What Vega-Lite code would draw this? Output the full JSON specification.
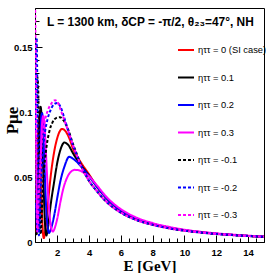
{
  "$schema": "https://vega.github.io/schema/vega-lite/v6.json",
  "width": 229,
  "height": 234,
  "autosize": "none",
  "padding": {"left": 35, "top": 8, "right": 2, "bottom": 31},
  "background": "white",
  "config": {
    "view": {"stroke": "black", "strokeWidth": 1},
    "axis": {"grid": false, "domainColor": "black", "tickColor": "black", "labelColor": "black", "titleColor": "black"}
  },
  "title": {
    "text": "L = 1300 km, δCP = -π/2, θ₂₃=47°, NH",
    "anchor": "start", "frame": "group", "dx": 12, "dy": 41,
    "font": "Liberation Sans", "fontSize": 11.9, "fontWeight": "bold", "color": "black"
  },
  "data": {"values": [
    {"s":"ηττ = 0 (SI case)","E":0.60,"P":0.030},{"s":"ηττ = 0 (SI case)","E":0.65,"P":0.008},{"s":"ηττ = 0 (SI case)","E":0.70,"P":0.028},{"s":"ηττ = 0 (SI case)","E":0.75,"P":0.062},{"s":"ηττ = 0 (SI case)","E":0.80,"P":0.086},{"s":"ηττ = 0 (SI case)","E":0.85,"P":0.095},{"s":"ηττ = 0 (SI case)","E":0.90,"P":0.088},{"s":"ηττ = 0 (SI case)","E":0.95,"P":0.066},{"s":"ηττ = 0 (SI case)","E":1.00,"P":0.040},{"s":"ηττ = 0 (SI case)","E":1.05,"P":0.019},{"s":"ηττ = 0 (SI case)","E":1.10,"P":0.007},{"s":"ηττ = 0 (SI case)","E":1.15,"P":0.003},{"s":"ηττ = 0 (SI case)","E":1.25,"P":0.009},{"s":"ηττ = 0 (SI case)","E":1.40,"P":0.028},{"s":"ηττ = 0 (SI case)","E":1.60,"P":0.052},{"s":"ηττ = 0 (SI case)","E":1.80,"P":0.069},{"s":"ηττ = 0 (SI case)","E":2.00,"P":0.080},{"s":"ηττ = 0 (SI case)","E":2.15,"P":0.085},{"s":"ηττ = 0 (SI case)","E":2.30,"P":0.087},{"s":"ηττ = 0 (SI case)","E":2.50,"P":0.0855},{"s":"ηττ = 0 (SI case)","E":2.75,"P":0.080},{"s":"ηττ = 0 (SI case)","E":3.00,"P":0.0715},{"s":"ηττ = 0 (SI case)","E":3.50,"P":0.061},{"s":"ηττ = 0 (SI case)","E":4.00,"P":0.052},{"s":"ηττ = 0 (SI case)","E":4.5,"P":0.0425},{"s":"ηττ = 0 (SI case)","E":5,"P":0.035},{"s":"ηττ = 0 (SI case)","E":5.5,"P":0.029},{"s":"ηττ = 0 (SI case)","E":6,"P":0.0245},{"s":"ηττ = 0 (SI case)","E":7,"P":0.018},{"s":"ηττ = 0 (SI case)","E":8,"P":0.014},{"s":"ηττ = 0 (SI case)","E":9,"P":0.0112},{"s":"ηττ = 0 (SI case)","E":10,"P":0.0091},{"s":"ηττ = 0 (SI case)","E":11,"P":0.0076},{"s":"ηττ = 0 (SI case)","E":12,"P":0.0064},{"s":"ηττ = 0 (SI case)","E":13,"P":0.0055},{"s":"ηττ = 0 (SI case)","E":14,"P":0.0047},{"s":"ηττ = 0 (SI case)","E":15,"P":0.0041},

    {"s":"ηττ = 0.1","E":0.60,"P":0.050},{"s":"ηττ = 0.1","E":0.65,"P":0.022},{"s":"ηττ = 0.1","E":0.70,"P":0.006},{"s":"ηττ = 0.1","E":0.75,"P":0.016},{"s":"ηττ = 0.1","E":0.80,"P":0.046},{"s":"ηττ = 0.1","E":0.85,"P":0.077},{"s":"ηττ = 0.1","E":0.90,"P":0.097},{"s":"ηττ = 0.1","E":0.95,"P":0.104},{"s":"ηττ = 0.1","E":1.00,"P":0.099},{"s":"ηττ = 0.1","E":1.05,"P":0.085},{"s":"ηττ = 0.1","E":1.10,"P":0.063},{"s":"ηττ = 0.1","E":1.15,"P":0.041},{"s":"ηττ = 0.1","E":1.20,"P":0.022},{"s":"ηττ = 0.1","E":1.25,"P":0.010},{"s":"ηττ = 0.1","E":1.32,"P":0.005},{"s":"ηττ = 0.1","E":1.40,"P":0.010},{"s":"ηττ = 0.1","E":1.60,"P":0.030},{"s":"ηττ = 0.1","E":1.80,"P":0.046},{"s":"ηττ = 0.1","E":2.00,"P":0.061},{"s":"ηττ = 0.1","E":2.20,"P":0.071},{"s":"ηττ = 0.1","E":2.45,"P":0.0765},{"s":"ηττ = 0.1","E":2.70,"P":0.0745},{"s":"ηττ = 0.1","E":3.00,"P":0.068},{"s":"ηττ = 0.1","E":3.50,"P":0.059},{"s":"ηττ = 0.1","E":4.00,"P":0.051},{"s":"ηττ = 0.1","E":4.5,"P":0.0425},{"s":"ηττ = 0.1","E":5,"P":0.035},{"s":"ηττ = 0.1","E":5.5,"P":0.029},{"s":"ηττ = 0.1","E":6,"P":0.0245},{"s":"ηττ = 0.1","E":7,"P":0.018},{"s":"ηττ = 0.1","E":8,"P":0.014},{"s":"ηττ = 0.1","E":9,"P":0.0112},{"s":"ηττ = 0.1","E":10,"P":0.0091},{"s":"ηττ = 0.1","E":11,"P":0.0076},{"s":"ηττ = 0.1","E":12,"P":0.0064},{"s":"ηττ = 0.1","E":13,"P":0.0055},{"s":"ηττ = 0.1","E":14,"P":0.0047},{"s":"ηττ = 0.1","E":15,"P":0.0041},

    {"s":"ηττ = 0.2","E":0.60,"P":0.075},{"s":"ηττ = 0.2","E":0.65,"P":0.042},{"s":"ηττ = 0.2","E":0.70,"P":0.018},{"s":"ηττ = 0.2","E":0.75,"P":0.008},{"s":"ηττ = 0.2","E":0.80,"P":0.016},{"s":"ηττ = 0.2","E":0.85,"P":0.040},{"s":"ηττ = 0.2","E":0.90,"P":0.068},{"s":"ηττ = 0.2","E":0.95,"P":0.088},{"s":"ηττ = 0.2","E":1.00,"P":0.097},{"s":"ηττ = 0.2","E":1.05,"P":0.099},{"s":"ηττ = 0.2","E":1.10,"P":0.092},{"s":"ηττ = 0.2","E":1.15,"P":0.077},{"s":"ηττ = 0.2","E":1.20,"P":0.058},{"s":"ηττ = 0.2","E":1.30,"P":0.027},{"s":"ηττ = 0.2","E":1.40,"P":0.011},{"s":"ηττ = 0.2","E":1.48,"P":0.007},{"s":"ηττ = 0.2","E":1.60,"P":0.010},{"s":"ηττ = 0.2","E":1.80,"P":0.020},{"s":"ηττ = 0.2","E":2.00,"P":0.034},{"s":"ηττ = 0.2","E":2.20,"P":0.047},{"s":"ηττ = 0.2","E":2.45,"P":0.058},{"s":"ηττ = 0.2","E":2.75,"P":0.0655},{"s":"ηττ = 0.2","E":3.00,"P":0.064},{"s":"ηττ = 0.2","E":3.50,"P":0.058},{"s":"ηττ = 0.2","E":4.00,"P":0.0505},{"s":"ηττ = 0.2","E":4.5,"P":0.0425},{"s":"ηττ = 0.2","E":5,"P":0.035},{"s":"ηττ = 0.2","E":5.5,"P":0.029},{"s":"ηττ = 0.2","E":6,"P":0.0245},{"s":"ηττ = 0.2","E":7,"P":0.018},{"s":"ηττ = 0.2","E":8,"P":0.014},{"s":"ηττ = 0.2","E":9,"P":0.0112},{"s":"ηττ = 0.2","E":10,"P":0.0091},{"s":"ηττ = 0.2","E":11,"P":0.0076},{"s":"ηττ = 0.2","E":12,"P":0.0064},{"s":"ηττ = 0.2","E":13,"P":0.0055},{"s":"ηττ = 0.2","E":14,"P":0.0047},{"s":"ηττ = 0.2","E":15,"P":0.0041},

    {"s":"ηττ = 0.3","E":0.60,"P":0.115},{"s":"ηττ = 0.3","E":0.65,"P":0.072},{"s":"ηττ = 0.3","E":0.70,"P":0.040},{"s":"ηττ = 0.3","E":0.75,"P":0.020},{"s":"ηττ = 0.3","E":0.80,"P":0.010},{"s":"ηττ = 0.3","E":0.85,"P":0.016},{"s":"ηττ = 0.3","E":0.90,"P":0.036},{"s":"ηττ = 0.3","E":0.95,"P":0.060},{"s":"ηττ = 0.3","E":1.00,"P":0.080},{"s":"ηττ = 0.3","E":1.05,"P":0.092},{"s":"ηττ = 0.3","E":1.12,"P":0.097},{"s":"ηττ = 0.3","E":1.20,"P":0.090},{"s":"ηττ = 0.3","E":1.30,"P":0.066},{"s":"ηττ = 0.3","E":1.40,"P":0.041},{"s":"ηττ = 0.3","E":1.50,"P":0.023},{"s":"ηττ = 0.3","E":1.60,"P":0.012},{"s":"ηττ = 0.3","E":1.72,"P":0.008},{"s":"ηττ = 0.3","E":1.85,"P":0.011},{"s":"ηττ = 0.3","E":2.00,"P":0.018},{"s":"ηττ = 0.3","E":2.20,"P":0.031},{"s":"ηττ = 0.3","E":2.40,"P":0.042},{"s":"ηττ = 0.3","E":2.60,"P":0.049},{"s":"ηττ = 0.3","E":2.85,"P":0.054},{"s":"ηττ = 0.3","E":3.10,"P":0.0555},{"s":"ηττ = 0.3","E":3.40,"P":0.055},{"s":"ηττ = 0.3","E":3.70,"P":0.053},{"s":"ηττ = 0.3","E":4.00,"P":0.0505},{"s":"ηττ = 0.3","E":4.5,"P":0.0435},{"s":"ηττ = 0.3","E":5,"P":0.036},{"s":"ηττ = 0.3","E":5.5,"P":0.030},{"s":"ηττ = 0.3","E":6,"P":0.0253},{"s":"ηττ = 0.3","E":7,"P":0.0187},{"s":"ηττ = 0.3","E":8,"P":0.0146},{"s":"ηττ = 0.3","E":9,"P":0.0117},{"s":"ηττ = 0.3","E":10,"P":0.0095},{"s":"ηττ = 0.3","E":11,"P":0.0079},{"s":"ηττ = 0.3","E":12,"P":0.0067},{"s":"ηττ = 0.3","E":13,"P":0.0057},{"s":"ηττ = 0.3","E":14,"P":0.0049},{"s":"ηττ = 0.3","E":15,"P":0.0043},

    {"s":"ηττ = -0.1","E":0.60,"P":0.030},{"s":"ηττ = -0.1","E":0.65,"P":0.068},{"s":"ηττ = -0.1","E":0.70,"P":0.108},{"s":"ηττ = -0.1","E":0.75,"P":0.127},{"s":"ηττ = -0.1","E":0.80,"P":0.118},{"s":"ηττ = -0.1","E":0.85,"P":0.080},{"s":"ηττ = -0.1","E":0.90,"P":0.032},{"s":"ηττ = -0.1","E":0.95,"P":0.006},{"s":"ηττ = -0.1","E":1.00,"P":0.012},{"s":"ηττ = -0.1","E":1.05,"P":0.030},{"s":"ηττ = -0.1","E":1.15,"P":0.052},{"s":"ηττ = -0.1","E":1.30,"P":0.071},{"s":"ηττ = -0.1","E":1.50,"P":0.085},{"s":"ηττ = -0.1","E":1.70,"P":0.092},{"s":"ηττ = -0.1","E":1.95,"P":0.0955},{"s":"ηττ = -0.1","E":2.17,"P":0.096},{"s":"ηττ = -0.1","E":2.40,"P":0.0935},{"s":"ηττ = -0.1","E":2.70,"P":0.086},{"s":"ηττ = -0.1","E":3.00,"P":0.075},{"s":"ηττ = -0.1","E":3.25,"P":0.067},{"s":"ηττ = -0.1","E":3.50,"P":0.059},{"s":"ηττ = -0.1","E":4.00,"P":0.047},{"s":"ηττ = -0.1","E":4.5,"P":0.039},{"s":"ηττ = -0.1","E":5,"P":0.032},{"s":"ηττ = -0.1","E":5.5,"P":0.0267},{"s":"ηττ = -0.1","E":6,"P":0.0226},{"s":"ηττ = -0.1","E":7,"P":0.0168},{"s":"ηττ = -0.1","E":8,"P":0.0132},{"s":"ηττ = -0.1","E":9,"P":0.0106},{"s":"ηττ = -0.1","E":10,"P":0.0087},{"s":"ηττ = -0.1","E":11,"P":0.0073},{"s":"ηττ = -0.1","E":12,"P":0.0062},{"s":"ηττ = -0.1","E":13,"P":0.0053},{"s":"ηττ = -0.1","E":14,"P":0.0046},{"s":"ηττ = -0.1","E":15,"P":0.0040},

    {"s":"ηττ = -0.2","E":0.60,"P":0.085},{"s":"ηττ = -0.2","E":0.65,"P":0.130},{"s":"ηττ = -0.2","E":0.70,"P":0.157},{"s":"ηττ = -0.2","E":0.74,"P":0.127},{"s":"ηττ = -0.2","E":0.78,"P":0.062},{"s":"ηττ = -0.2","E":0.82,"P":0.018},{"s":"ηττ = -0.2","E":0.85,"P":0.005},{"s":"ηττ = -0.2","E":0.90,"P":0.020},{"s":"ηττ = -0.2","E":0.95,"P":0.040},{"s":"ηττ = -0.2","E":1.05,"P":0.063},{"s":"ηττ = -0.2","E":1.20,"P":0.082},{"s":"ηττ = -0.2","E":1.40,"P":0.095},{"s":"ηττ = -0.2","E":1.60,"P":0.102},{"s":"ηττ = -0.2","E":1.80,"P":0.106},{"s":"ηττ = -0.2","E":2.03,"P":0.107},{"s":"ηττ = -0.2","E":2.20,"P":0.104},{"s":"ηττ = -0.2","E":2.48,"P":0.094},{"s":"ηττ = -0.2","E":2.70,"P":0.085},{"s":"ηττ = -0.2","E":3.00,"P":0.074},{"s":"ηττ = -0.2","E":3.25,"P":0.066},{"s":"ηττ = -0.2","E":3.50,"P":0.059},{"s":"ηττ = -0.2","E":4.00,"P":0.047},{"s":"ηττ = -0.2","E":4.5,"P":0.039},{"s":"ηττ = -0.2","E":5,"P":0.032},{"s":"ηττ = -0.2","E":5.5,"P":0.0267},{"s":"ηττ = -0.2","E":6,"P":0.0226},{"s":"ηττ = -0.2","E":7,"P":0.0168},{"s":"ηττ = -0.2","E":8,"P":0.0132},{"s":"ηττ = -0.2","E":9,"P":0.0106},{"s":"ηττ = -0.2","E":10,"P":0.0087},{"s":"ηττ = -0.2","E":11,"P":0.0073},{"s":"ηττ = -0.2","E":12,"P":0.0062},{"s":"ηττ = -0.2","E":13,"P":0.0053},{"s":"ηττ = -0.2","E":14,"P":0.0046},{"s":"ηττ = -0.2","E":15,"P":0.0040},

    {"s":"ηττ = -0.3","E":0.60,"P":0.190},{"s":"ηττ = -0.3","E":0.63,"P":0.155},{"s":"ηττ = -0.3","E":0.66,"P":0.100},{"s":"ηττ = -0.3","E":0.70,"P":0.040},{"s":"ηττ = -0.3","E":0.74,"P":0.008},{"s":"ηττ = -0.3","E":0.78,"P":0.015},{"s":"ηττ = -0.3","E":0.85,"P":0.040},{"s":"ηττ = -0.3","E":0.95,"P":0.065},{"s":"ηττ = -0.3","E":1.05,"P":0.080},{"s":"ηττ = -0.3","E":1.20,"P":0.092},{"s":"ηττ = -0.3","E":1.40,"P":0.101},{"s":"ηττ = -0.3","E":1.60,"P":0.106},{"s":"ηττ = -0.3","E":1.86,"P":0.109},{"s":"ηττ = -0.3","E":2.00,"P":0.108},{"s":"ηττ = -0.3","E":2.20,"P":0.102},{"s":"ηττ = -0.3","E":2.48,"P":0.0925},{"s":"ηττ = -0.3","E":2.70,"P":0.085},{"s":"ηττ = -0.3","E":3.00,"P":0.074},{"s":"ηττ = -0.3","E":3.25,"P":0.066},{"s":"ηττ = -0.3","E":3.50,"P":0.058},{"s":"ηττ = -0.3","E":4.00,"P":0.047},{"s":"ηττ = -0.3","E":4.5,"P":0.039},{"s":"ηττ = -0.3","E":5,"P":0.032},{"s":"ηττ = -0.3","E":5.5,"P":0.0267},{"s":"ηττ = -0.3","E":6,"P":0.0226},{"s":"ηττ = -0.3","E":7,"P":0.0168},{"s":"ηττ = -0.3","E":8,"P":0.0132},{"s":"ηττ = -0.3","E":9,"P":0.0106},{"s":"ηττ = -0.3","E":10,"P":0.0087},{"s":"ηττ = -0.3","E":11,"P":0.0073},{"s":"ηττ = -0.3","E":12,"P":0.0062},{"s":"ηττ = -0.3","E":13,"P":0.0053},{"s":"ηττ = -0.3","E":14,"P":0.0046},{"s":"ηττ = -0.3","E":15,"P":0.0040}
  ]},
  "layer": [
    {
      "mark": {"type": "line", "strokeWidth": 2, "clip": true, "interpolate": "monotone"},
      "encoding": {
        "x": {"field": "E", "type": "quantitative",
              "scale": {"domain": [0.6, 15], "nice": false, "zero": false},
              "axis": {"values": [2,4,6,8,10,12,14], "tickSize": -7, "labelPadding": 12, "labelFont": "Liberation Sans", "labelFontWeight": "bold", "labelFontSize": 9.5,
                       "title": "E [GeV]", "titleFont": "Liberation Serif", "titleFontSize": 15, "titleFontWeight": "bold", "titlePadding": 2}},
        "y": {"field": "P", "type": "quantitative",
              "scale": {"domain": [0, 0.18], "nice": false},
              "axis": {"values": [0, 0.05, 0.1, 0.15], "format": "~g", "tickSize": -7, "labelPadding": 10, "labelFont": "Liberation Sans", "labelFontWeight": "bold", "labelFontSize": 9.5,
                       "title": "Pμe", "titleFont": "Liberation Serif", "titleFontSize": 17, "titleFontWeight": "bold", "titleX": -14, "titleY": 112}},
        "color": {"field": "s", "type": "nominal",
                  "scale": {"domain": ["ηττ = 0 (SI case)","ηττ = 0.1","ηττ = 0.2","ηττ = 0.3","ηττ = -0.1","ηττ = -0.2","ηττ = -0.3"],
                            "range": ["#ff0000","#000000","#0000ff","#ff00ff","#000000","#0000ff","#ff00ff"]},
                  "legend": {"orient": "none", "legendX": 142, "legendY": 33, "title": null, "symbolType": "stroke", "symbolSize": 256, "symbolStrokeWidth": 2,
                             "labelFont": "Liberation Sans", "labelFontSize": 9.3, "labelColor": "black", "rowPadding": 12.5, "padding": 0, "labelOffset": 3}},
        "strokeDash": {"field": "s", "type": "nominal",
                  "scale": {"domain": ["ηττ = 0 (SI case)","ηττ = 0.1","ηττ = 0.2","ηττ = 0.3","ηττ = -0.1","ηττ = -0.2","ηττ = -0.3"],
                            "range": [[1,0],[1,0],[1,0],[1,0],[3,2],[3,2],[3,2]]},
                  "legend": {"orient": "none", "legendX": 142, "legendY": 33, "title": null, "symbolType": "stroke", "symbolSize": 256, "symbolStrokeWidth": 2,
                             "labelFont": "Liberation Sans", "labelFontSize": 9.3, "labelColor": "black", "rowPadding": 12.5, "padding": 0, "labelOffset": 3}}
      }
    },
    {
      "mark": {"type": "point", "opacity": 0},
      "encoding": {
        "x": {"field": "E", "type": "quantitative",
              "axis": {"orient": "bottom", "values": [1,1.5,2.5,3,3.5,4.5,5,5.5,6.5,7,7.5,8.5,9,9.5,10.5,11,11.5,12.5,13,13.5,14.5,15], "tickSize": -4, "labels": false, "domain": false, "title": null}},
        "y": {"field": "P", "type": "quantitative",
              "axis": {"orient": "left", "values": [0.01,0.02,0.03,0.04,0.06,0.07,0.08,0.09,0.11,0.12,0.13,0.14,0.16,0.17], "tickSize": -4, "labels": false, "domain": false, "title": null}}
      }
    }
  ],
  "resolve": {"axis": {"x": "independent", "y": "independent"}}
}
